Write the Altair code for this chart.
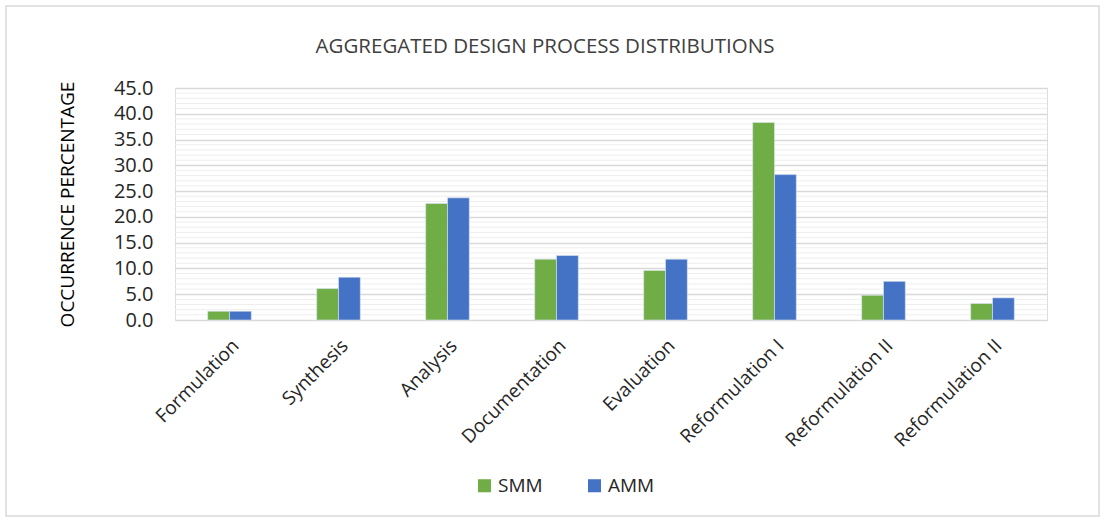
import altair as alt
import pandas as pd

categories = ["Formulation", "Synthesis", "Analysis", "Documentation", "Evaluation",
              "Reformulation I", "Reformulation II", "Reformulation II"]
smm = [1.7, 6.1, 22.6, 11.8, 9.6, 38.3, 4.8, 3.2]
amm = [1.7, 8.3, 23.7, 12.5, 11.8, 28.2, 7.5, 4.3]
series = ["SMM", "AMM"]
colors = ["#70AD47", "#4472C4"]
major_ticks = [0, 5, 10, 15, 20, 25, 30, 35, 40, 45]
minor_ticks = [v for v in range(1, 45) if v % 5 != 0]
title_text = "AGGREGATED DESIGN PROCESS DISTRIBUTIONS"

rows = []
for i, c in enumerate(categories):
    rows.append({"idx": i, "series": "SMM", "value": smm[i]})
    rows.append({"idx": i, "series": "AMM", "value": amm[i]})
df = pd.DataFrame(rows)
minor_df = pd.DataFrame({"value": minor_ticks})
title_df = pd.DataFrame({"t": [title_text]})

font = "Open Sans"
label_expr = "[" + ",".join("'" + c + "'" for c in categories) + "][datum.value]"

yscale = alt.Scale(domain=[0, 45])
yaxis = alt.Axis(values=major_ticks, format=".1f",
                 labelFontSize=20, labelColor="#262626", labelFont=font,
                 labelPadding=22, ticks=False, domain=False,
                 gridColor="#d9d9d9", gridWidth=1.5,
                 title="OCCURRENCE PERCENTAGE", titleFontSize=19,
                 titleFont=font, titleColor="#000000", titleFontWeight=500,
                 titlePadding=36)

minor = alt.Chart(minor_df).mark_rule(color="#eeeeee", strokeWidth=1).encode(
    y=alt.Y("value:Q", scale=yscale, axis=yaxis)
)

frame = alt.Chart(title_df).mark_rect(fill=None, stroke="#d9d9d9", strokeWidth=1.5).encode(
    x=alt.value(-169), x2=alt.value(924), y=alt.value(-82), y2=alt.value(428)
)

title = alt.Chart(title_df).mark_text(font=font, fontSize=20.5, color="#404040",
                                      align="center", baseline="middle").encode(
    x=alt.value(370), y=alt.value(-41), text="t:N"
)

bars = alt.Chart(df).mark_bar(stroke="#dce6f2", strokeWidth=0.6).encode(
    x=alt.X("idx:O", scale=alt.Scale(paddingInner=0.6, paddingOuter=0.3),
            axis=alt.Axis(labelExpr=label_expr, labelAngle=-45, labelFontSize=19,
                          labelColor="#262626", labelFont=font, domain=False, ticks=False,
                          labelPadding=16, title=None)),
    xOffset=alt.XOffset("series:N", sort=series),
    y=alt.Y("value:Q", scale=yscale, axis=yaxis),
    color=alt.Color("series:N", sort=series,
                    scale=alt.Scale(domain=series, range=colors),
                    legend=alt.Legend(title=None, orient="none", direction="horizontal",
                                      legendX=300, legendY=388, symbolType="square",
                                      symbolSize=170, labelFontSize=19, labelFont=font,
                                      labelColor="#262626", columnPadding=42,
                                      symbolStrokeWidth=0)),
)

chart = alt.layer(minor, bars, frame, title).properties(
    width=872, height=232,
    autosize=alt.AutoSizeParams(type="none"),
    padding={"left": 175, "top": 88, "right": 63, "bottom": 204},
).configure_view(stroke=None).configure(background="white")

chart.save("out.html", embed_options={"renderer": "svg", "actions": False})
